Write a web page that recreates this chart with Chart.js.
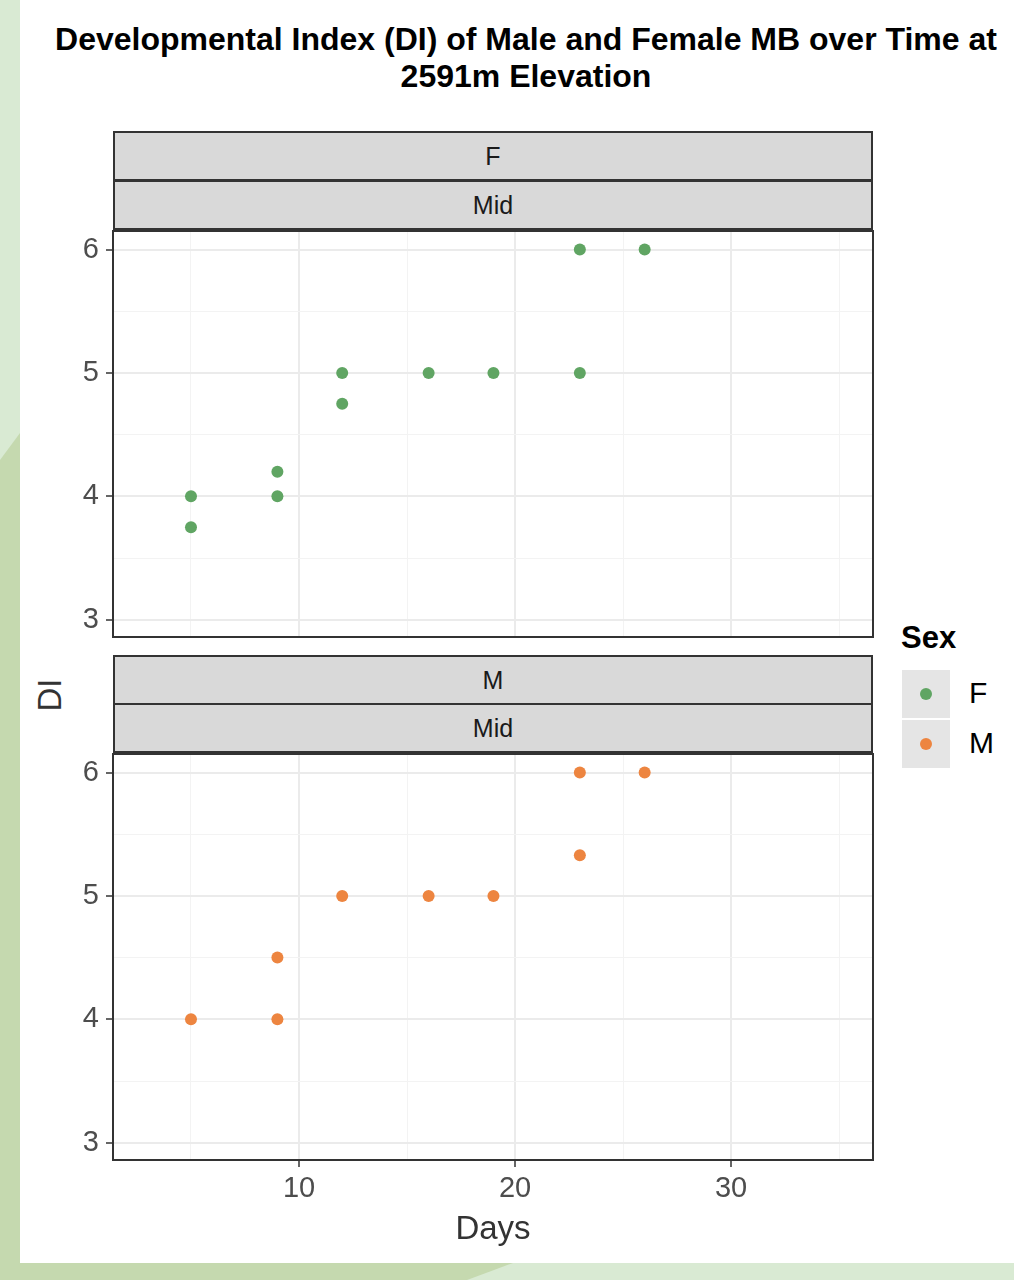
<!DOCTYPE html>
<html>
<head>
<meta charset="utf-8">
<script src="https://cdn.jsdelivr.net/npm/chart.js@4.4.1/dist/chart.umd.min.js"></script>
<style>
  html, body { margin: 0; padding: 0; }
  body {
    width: 1014px; height: 1280px; position: relative; overflow: hidden;
    background: #c5d9af;
    font-family: "Liberation Sans", Arial, sans-serif;
  }
  .bg { position: absolute; left: 0; top: 0; width: 1014px; height: 1280px; }
  #bgLight { background: #d9ead3; clip-path: polygon(0 0, 20px 0, 20px 433px, 0 460px); }
  #bgLight2 { background: #d9ead3; clip-path: polygon(513px 1263px, 1014px 1263px, 1014px 1280px, 467px 1280px); }
  #bgDark { background: #b3d8bb; clip-path: polygon(0 0, 20px 0, 20px 40px, 0 62px); }
  #sheet { position: absolute; left: 20px; top: 0; width: 994px; height: 1263px; background: #fff; }
  #title {
    position: absolute; left: 26px; width: 1000px; top: 21px;
    text-align: center; font-weight: bold; font-size: 32px; line-height: 37px; color: #000;
  }
  canvas { position: absolute; }
  .strip {
    position: absolute; left: 113px; width: 760px; height: 50px; box-sizing: border-box;
    background: #d9d9d9; border: 2px solid #333;
    font-size: 25px; color: #1a1a1a; text-align: center; line-height: 46px;
  }
  .axtitle { position: absolute; font-size: 33px; color: #333; white-space: nowrap; }
  #legTitle { position: absolute; left: 901px; top: 620px; font-size: 31px; font-weight: bold; color: #000; }
  .key { position: absolute; left: 902px; width: 48px; height: 48px; background: #e5e5e5; }
  .key span { position: absolute; left: 18px; top: 18px; width: 12px; height: 12px; border-radius: 50%; }
  .keylab { position: absolute; left: 969px; font-size: 30px; color: #000; line-height: 34px; }
</style>
</head>
<body>
<div class="bg" id="bgDark"></div>
<div class="bg" id="bgLight"></div>
<div class="bg" id="bgLight2"></div>
<div id="sheet"></div>

<div id="title">Developmental Index (DI) of Male and Female MB over Time at<br>2591m Elevation</div>

<div class="strip" style="top:131px">F</div>
<div class="strip" style="top:180px">Mid</div>
<canvas id="chartF" width="870" height="418" style="left:20px; top:225px"></canvas>

<div class="strip" style="top:655px">M</div>
<div class="strip" style="top:703px">Mid</div>
<canvas id="chartM" width="870" height="467" style="left:20px; top:748px"></canvas>

<div class="axtitle" style="left:493px; top:1228px; transform:translate(-50%,-50%)">Days</div>
<div class="axtitle" style="left:50px; top:695px; transform:translate(-50%,-50%) rotate(-90deg)">DI</div>

<div id="legTitle">Sex</div>
<div class="key" style="top:670px"><span style="background:#60a563"></span></div>
<div class="key" style="top:720px"><span style="background:#ed8540"></span></div>
<div class="keylab" style="top:676px">F</div>
<div class="keylab" style="top:726px">M</div>

<script>
// data
var daysF = [5, 5, 9, 9, 12, 12, 16, 19, 23, 23, 26];
var diF   = [4, 3.75, 4.2, 4, 5, 4.75, 5, 5, 6, 5, 6];
var daysM = [5, 9, 9, 12, 16, 19, 23, 23, 26];
var diM   = [4, 4.5, 4, 5, 5, 5, 6, 5.33, 6];

var xTicks = [10, 20, 30];
var xGrid  = [5, 10, 15, 20, 25, 30, 35];
var yTicks = [3, 4, 5, 6];
var yGrid  = [3, 3.5, 4, 4.5, 5, 5.5, 6];

var colF = "#60a563";
var colM = "#ed8540";

function toPoints(xs, ys) {
    var pts = [];
    for (let i = 0; i < xs.length; i++) {
        pts.push({ x: xs[i], y: ys[i] });
    }
    return pts;
}

var panelBorder = {
    id: 'panelBorder',
    afterDraw: function (chart) {
        var a = chart.chartArea;
        var ctx = chart.ctx;
        ctx.save();
        ctx.strokeStyle = '#333333';
        ctx.lineWidth = 2;
        ctx.strokeRect(a.left, a.top, a.right - a.left, a.bottom - a.top);
        ctx.restore();
    }
};

var tickFont = { family: "'Liberation Sans', Arial, sans-serif", size: 29 };

function panelOptions(showX) {
    return {
        responsive: false,
        animation: false,
        layout: { padding: { top: 4, right: 17, bottom: showX ? 0 : 4, left: 0 } },
        plugins: { legend: { display: false }, tooltip: { enabled: false } },
        scales: {
            x: {
                type: 'linear',
                min: 1.39,
                max: 36.57,
                afterBuildTicks: function (s) { s.ticks = xGrid.map(v => ({ value: v })); },
                afterFit: function (s) {
                    s.height = showX ? 55 : 0;
                    s.paddingLeft = 0;
                    s.paddingRight = 0;
                },
                border: { display: false },
                grid: {
                    color: ctx => xTicks.includes(ctx.tick.value) ? '#ebebeb' : '#f3f3f3',
                    lineWidth: ctx => xTicks.includes(ctx.tick.value) ? 2 : 1,
                    drawTicks: showX,
                    tickLength: 7,
                    tickWidth: 1.5,
                    tickColor: ctx => xTicks.includes(ctx.tick.value) ? '#333333' : 'rgba(0,0,0,0)'
                },
                ticks: {
                    display: showX,
                    autoSkip: false,
                    maxRotation: 0,
                    padding: 5,
                    color: '#4d4d4d',
                    font: tickFont,
                    callback: v => xTicks.includes(v) ? String(v) : ''
                }
            },
            y: {
                type: 'linear',
                min: 2.86,
                max: 6.15,
                afterBuildTicks: function (s) { s.ticks = yGrid.map(v => ({ value: v })); },
                afterFit: function (s) {
                    s.width = 93;
                    s.paddingTop = 0;
                    s.paddingBottom = 0;
                },
                border: { display: false },
                grid: {
                    color: ctx => yTicks.includes(ctx.tick.value) ? '#ebebeb' : '#f3f3f3',
                    lineWidth: ctx => yTicks.includes(ctx.tick.value) ? 2 : 1,
                    tickLength: 7,
                    tickWidth: 1.5,
                    tickColor: ctx => yTicks.includes(ctx.tick.value) ? '#333333' : 'rgba(0,0,0,0)'
                },
                ticks: {
                    autoSkip: false,
                    padding: 7,
                    color: '#4d4d4d',
                    font: tickFont,
                    callback: v => yTicks.includes(v) ? String(v) : ''
                }
            }
        }
    };
}

new Chart(document.getElementById('chartF'), {
    type: 'scatter',
    data: {
        datasets: [{
            label: 'F',
            data: toPoints(daysF, diF),
            backgroundColor: colF,
            borderColor: colF,
            pointRadius: 6,
            borderWidth: 0
        }]
    },
    options: panelOptions(false),
    plugins: [panelBorder]
});

new Chart(document.getElementById('chartM'), {
    type: 'scatter',
    data: {
        datasets: [{
            label: 'M',
            data: toPoints(daysM, diM),
            backgroundColor: colM,
            borderColor: colM,
            pointRadius: 6,
            borderWidth: 0
        }]
    },
    options: panelOptions(true),
    plugins: [panelBorder]
});
</script>
</body>
</html>
